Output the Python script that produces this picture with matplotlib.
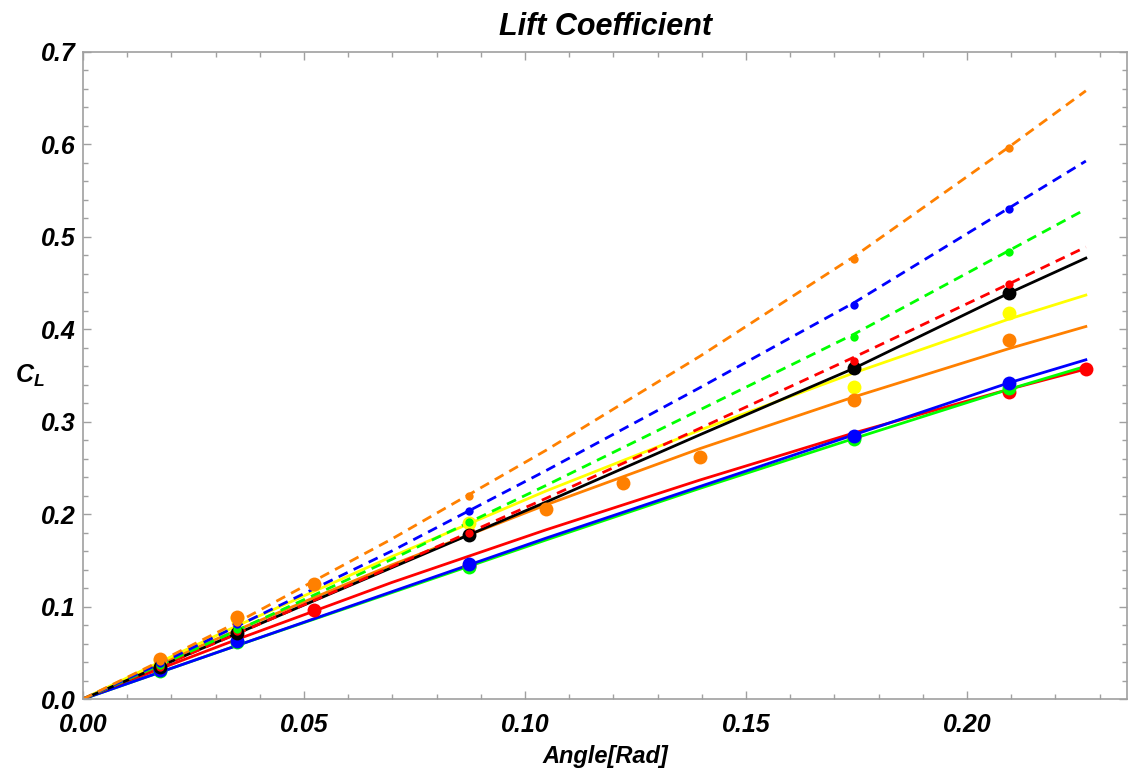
import numpy as np
import matplotlib
matplotlib.use("Agg")
import matplotlib.pyplot as plt
from matplotlib.ticker import MultipleLocator, FormatStrFormatter

plt.rcParams["font.family"] = ["Liberation Sans", "DejaVu Sans"]
plt.rcParams["mathtext.fontset"] = "custom"
plt.rcParams["mathtext.it"] = "Liberation Sans:bold:italic"
plt.rcParams["mathtext.rm"] = "Liberation Sans:bold"

# ---- model curves, sampled at these angles (degrees)
curve_deg = [0, 1, 2, 4, 6, 8, 10, 12, 13]

orange_dash = [0, 0.041, 0.083, 0.173, 0.269, 0.371, 0.479, 0.597, 0.658]
blue_dash = [0, 0.0385, 0.079, 0.160, 0.247, 0.337, 0.429, 0.531, 0.582]
green_dash = [0, 0.0369, 0.0744, 0.151, 0.231, 0.313, 0.395, 0.485, 0.530]
red_dash = [0, 0.0352, 0.0707, 0.143, 0.217, 0.293, 0.370, 0.449, 0.489]

black_line = [0, 0.0355, 0.071, 0.142, 0.213, 0.286, 0.358, 0.439, 0.477]
yellow_line = [0, 0.0402, 0.0793, 0.154, 0.225, 0.291, 0.353, 0.411, 0.437]
orange_line = [0, 0.0384, 0.0747, 0.145, 0.210, 0.271, 0.327, 0.379, 0.403]
blue_line = [0, 0.029, 0.058, 0.116, 0.174, 0.230, 0.286, 0.342, 0.367]
green_line = [0, 0.029, 0.058, 0.115, 0.172, 0.228, 0.282, 0.335, 0.360]
red_line = [0, 0.0328, 0.0646, 0.126, 0.183, 0.237, 0.288, 0.335, 0.357]

# ---- computed points on the dashed curves (small dots)
dash_pt_deg = [1, 2, 5, 10, 12]
orange_dash_pts = [0.041, 0.083, 0.220, 0.476, 0.596]
blue_dash_pts = [0.0385, 0.081, 0.203, 0.426, 0.530]
green_dash_pts = [0.037, 0.076, 0.191, 0.392, 0.484]
red_dash_pts = [0.035, 0.074, 0.180, 0.366, 0.449]

# ---- points for the solid curves (big dots)
pt_deg = [1, 2, 5, 10, 12]
red_pt_deg = [3, 5, 10, 12, 13]
exp_deg = [1, 2, 3, 6, 7, 8, 10, 12]

red_pts = [0.096, 0.144, 0.283, 0.332, 0.357]
green_pts = [0.030, 0.062, 0.143, 0.281, 0.336]
blue_pts = [0.031, 0.063, 0.146, 0.285, 0.342]
exp_pts = [0.043, 0.089, 0.124, 0.206, 0.234, 0.262, 0.323, 0.388]
yellow_pts = [0.042, 0.088, 0.190, 0.338, 0.418]
black_pts = [0.035, 0.071, 0.177, 0.358, 0.439]

ORANGE = "#FF8000"
BLUE = "#0000FF"
GREEN = "#00FF00"
RED = "#FF0000"
YELLOW = "#FFFF00"
BLACK = "#000000"

rad = np.deg2rad
x_curve = rad(curve_deg)

fig = plt.figure(figsize=(11.28, 7.69), dpi=100)
ax = fig.add_axes([0.0736, 0.091, 0.9255, 0.8414])

lw = 2.0
dash = (0, (3.6, 2.4))

# solid curves
for ys, c in [(red_line, RED), (green_line, GREEN), (blue_line, BLUE),
              (orange_line, ORANGE), (yellow_line, YELLOW), (black_line, BLACK)]:
    ax.plot(x_curve, ys, color=c, lw=lw, zorder=2)

# dashed curves
for ys, c in [(red_dash, RED), (green_dash, GREEN), (blue_dash, BLUE),
              (orange_dash, ORANGE)]:
    ax.plot(x_curve, ys, color=c, lw=lw, ls=dash, zorder=2)

# big dots
big = 10
ax.plot(rad(red_pt_deg), red_pts, "o", color=RED, ms=big, mec="none", zorder=3)
ax.plot(rad(pt_deg), green_pts, "o", color=GREEN, ms=big, mec="none", zorder=3)
ax.plot(rad(pt_deg), blue_pts, "o", color=BLUE, ms=big, mec="none", zorder=3)
ax.plot(rad(pt_deg), yellow_pts, "o", color=YELLOW, ms=big, mec="none", zorder=3)
ax.plot(rad(exp_deg), exp_pts, "o", color=ORANGE, ms=big, mec="none", zorder=3)
ax.plot(rad(pt_deg), black_pts, "o", color=BLACK, ms=big, mec="none", zorder=3)

# small dots
small = 6
for ys, c in [(red_dash_pts, RED), (green_dash_pts, GREEN),
              (blue_dash_pts, BLUE), (orange_dash_pts, ORANGE)]:
    ax.plot(rad(dash_pt_deg), ys, "o", color=c, ms=small, mec="none", zorder=4)

ax.set_xlim(0, 0.2362)
ax.set_ylim(0, 0.7)

ax.xaxis.set_major_locator(MultipleLocator(0.05))
ax.xaxis.set_minor_locator(MultipleLocator(0.01))
ax.yaxis.set_major_locator(MultipleLocator(0.1))
ax.yaxis.set_minor_locator(MultipleLocator(0.02))
ax.xaxis.set_major_formatter(FormatStrFormatter("%.2f"))
ax.yaxis.set_major_formatter(FormatStrFormatter("%.1f"))

frame = "#A0A0A0"
for s in ax.spines.values():
    s.set_color(frame)
    s.set_linewidth(1.2)
ax.tick_params(which="both", direction="in", top=True, right=True,
               color=frame, width=1.0)
ax.tick_params(which="major", length=6, labelsize=18)
ax.tick_params(axis="x", which="major", pad=10)
ax.tick_params(axis="y", which="major", pad=5)
ax.tick_params(which="minor", length=3.5)
for lab in ax.get_xticklabels() + ax.get_yticklabels():
    lab.set_fontweight("bold")
    lab.set_fontstyle("italic")

ax.set_title("Lift Coefficient", fontsize=22, fontweight="bold",
             fontstyle="italic", pad=12)
ax.set_xlabel("Angle[Rad]", fontsize=17, fontweight="bold",
              fontstyle="italic", labelpad=6)
ax.set_ylabel("$C_L$", fontsize=18, rotation=0, labelpad=8, va="center")

fig.savefig("out.png", dpi=100)
